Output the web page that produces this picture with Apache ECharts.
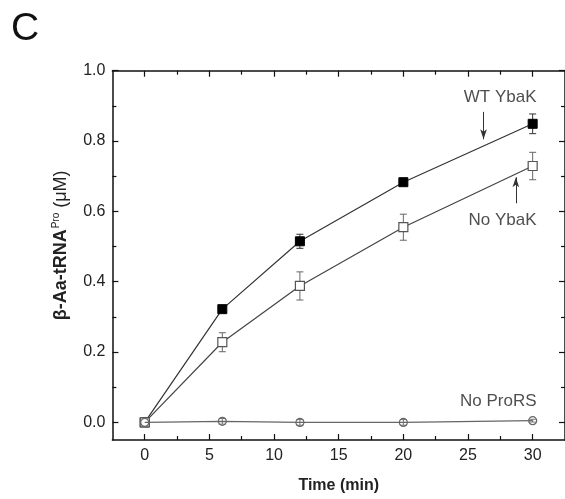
<!DOCTYPE html>
<html>
<head>
<meta charset="utf-8">
<script src="https://cdn.jsdelivr.net/npm/echarts@6/dist/echarts.min.js"></script>
<style>
	html, body {margin: 0; padding: 0; background: #fff;}
	#chart {width: 565px; height: 499px;}
</style>
</head>
<body>
<div id="chart"></div>
<script type="text/javascript">
var time = [0, 6, 12, 20, 30];
var wtYbaK = [0, 0.322, 0.515, 0.683, 0.849];
var wtYbaKErr = [0, 0.008, 0.02, 0.008, 0.028];
var noYbaK = [0, 0.228, 0.388, 0.555, 0.729];
var noYbaKErr = [0, 0.027, 0.04, 0.037, 0.039];
var noProRS = [0, 0.003, 0.0, 0.0, 0.005];
var noProRSErr = [0, 0.008, 0.008, 0.008, 0.004];

var xTicks = [0, 5, 10, 15, 20, 25, 30];
var xMinorTicks = [2.5, 7.5, 12.5, 17.5, 22.5, 27.5];
var yTicks = [0.0, 0.2, 0.4, 0.6, 0.8, 1.0];
var yMinorTicks = [0.1, 0.3, 0.5, 0.7, 0.9];

var labels = ['WT YbaK', 'No YbaK', 'No ProRS'];
var labelX = [30.3, 30.3, 30.3];
var labelY = [0.923, 0.575, 0.06];
// arrows: [x, yFrom, yTo]
var arrowWT = [26.2, 0.883, 0.805];
var arrowNo = [28.7, 0.623, 0.697];

var font = 'Liberation Sans, Arial, sans-serif';

function pairs(xs, ys, es) {
	return xs.map(function (x, i) { return es ? [x, ys[i], es[i]] : [x, ys[i]]; });
}

function errBar(color) {
	return function (params, api) {
		var x = api.value(0), y = api.value(1), e = api.value(2);
		var a = api.coord([x, y + e]);
		var b = api.coord([x, y - e]);
		var w = 3.5;
		var st = {stroke: color, lineWidth: 1};
		return {type: 'group', children: [
			{type: 'line', shape: {x1: a[0], y1: a[1], x2: b[0], y2: b[1]}, style: st},
			{type: 'line', shape: {x1: a[0] - w, y1: a[1], x2: a[0] + w, y2: a[1]}, style: st},
			{type: 'line', shape: {x1: b[0] - w, y1: b[1], x2: b[0] + w, y2: b[1]}, style: st}
		]};
	};
}

function xAx(pos, ticks, len, showLabel, showLine) {
	return {
		type: 'value', position: pos, min: -2.5, max: 32.5,
		axisLine: {show: showLine, onZero: false, lineStyle: {color: '#111', width: 1.5}},
		axisTick: {show: true, inside: true, length: len, customValues: ticks, lineStyle: {color: '#111', width: 1.2}},
		axisLabel: {show: showLabel, customValues: ticks, margin: 8, color: '#222', fontSize: 16, fontFamily: font},
		splitLine: {show: false}
	};
}

function yAx(pos, ticks, len, showLabel, showLine) {
	return {
		type: 'value', position: pos, min: -0.05, max: 1.0,
		axisLine: {show: showLine, onZero: false, lineStyle: {color: '#111', width: 1.5}},
		axisTick: {show: true, inside: true, length: len, customValues: ticks, lineStyle: {color: '#111', width: 1.2}},
		axisLabel: {show: showLabel, customValues: ticks, margin: 7, color: '#222', fontSize: 16, fontFamily: font,
			formatter: function (v) { return v.toFixed(1); }},
		splitLine: {show: false}
	};
}

var xAxes = [
	xAx('bottom', xTicks, 6, true, true),
	xAx('bottom', xMinorTicks, 4, false, false),
	xAx('top', xTicks, 6, false, true),
	xAx('top', xMinorTicks, 4, false, false)
];
xAxes[0].name = 'Time (min)';
xAxes[0].nameLocation = 'middle';
xAxes[0].nameGap = 38;
xAxes[0].nameTextStyle = {color: '#222', fontSize: 16, fontWeight: 'bold', fontFamily: font};

var yAxes = [
	yAx('left', yTicks, 6, true, true),
	yAx('left', yMinorTicks, 4, false, false),
	yAx('right', yTicks, 6, false, true),
	yAx('right', yMinorTicks, 4, false, false)
];
yAxes[0].name = '{b|β-Aa-tRNA}{sup|Pro}{n| (μM)}';
yAxes[0].nameLocation = 'middle';
yAxes[0].nameRotate = 90;
yAxes[0].nameGap = 42;
yAxes[0].nameTextStyle = {
	color: '#222', fontFamily: font,
	rich: {
		b: {fontSize: 18, fontWeight: 'bold', color: '#222', fontFamily: font, lineHeight: 22, verticalAlign: 'bottom', padding: [0, 0, 0, 20]},
		sup: {fontSize: 10, color: '#222', fontFamily: font, lineHeight: 22, verticalAlign: 'bottom', padding: [0, 0, 9, 1]},
		n: {fontSize: 18, color: '#222', fontFamily: font, lineHeight: 22, verticalAlign: 'bottom'}
	}
};

var arrowStyle = {color: '#333', width: 1, type: 'solid'};

var option = {
	animation: false,
	backgroundColor: '#fff',
	grid: {left: 112.4, top: 70.7, right: -1.5, bottom: 59, containLabel: false},
	xAxis: xAxes,
	yAxis: yAxes,
	graphic: [
		{type: 'text', left: 11, top: 10, style: {text: 'C', fontSize: 39, fontFamily: font, fill: '#111'}}
	],
	series: [
		{type: 'custom', renderItem: errBar('#333'), data: pairs(time, wtYbaK, wtYbaKErr), z: 1, silent: true},
		{type: 'custom', renderItem: errBar('#666'), data: pairs(time, noYbaK, noYbaKErr), z: 1, silent: true},
		{type: 'custom', renderItem: errBar('#777'), data: pairs(time, noProRS, noProRSErr), z: 1, silent: true},
		{
			name: 'WT YbaK', type: 'line', data: pairs(time, wtYbaK), z: 3,
			symbol: 'rect', symbolSize: 9,
			lineStyle: {color: '#333', width: 1.2},
			itemStyle: {color: '#000', borderColor: '#000', borderWidth: 1},
			markLine: {
				silent: true, symbol: ['none', 'arrow'], symbolSize: [5, 10], label: {show: false},
				lineStyle: arrowStyle,
				data: [
					[{coord: [arrowWT[0], arrowWT[1]]}, {coord: [arrowWT[0], arrowWT[2]]}],
					[{coord: [arrowNo[0], arrowNo[1]]}, {coord: [arrowNo[0], arrowNo[2]]}]
				]
			}
		},
		{
			name: 'No YbaK', type: 'line', data: pairs(time, noYbaK), z: 4,
			symbol: 'rect', symbolSize: 9, showAllSymbol: true,
			lineStyle: {color: '#444', width: 1.2},
			itemStyle: {color: '#fff', borderColor: '#555', borderWidth: 1.2}
		},
		{
			name: 'No ProRS', type: 'line', data: pairs(time, noProRS), z: 5,
			symbol: 'circle', symbolSize: 8,
			lineStyle: {color: '#666', width: 1.2},
			itemStyle: {color: 'transparent', borderColor: '#666', borderWidth: 1.2}
		},
		{
			type: 'scatter', symbolSize: 0, z: 6, silent: true,
			data: labels.map(function (t, i) { return {name: t, value: [labelX[i], labelY[i]]}; }),
			label: {show: true, position: 'left', distance: 0, formatter: '{b}',
				color: '#222', fontSize: 17, fontFamily: font}
		}
	]
};

var chart = echarts.init(document.getElementById('chart'));
chart.setOption(option);
</script>
</body>
</html>
